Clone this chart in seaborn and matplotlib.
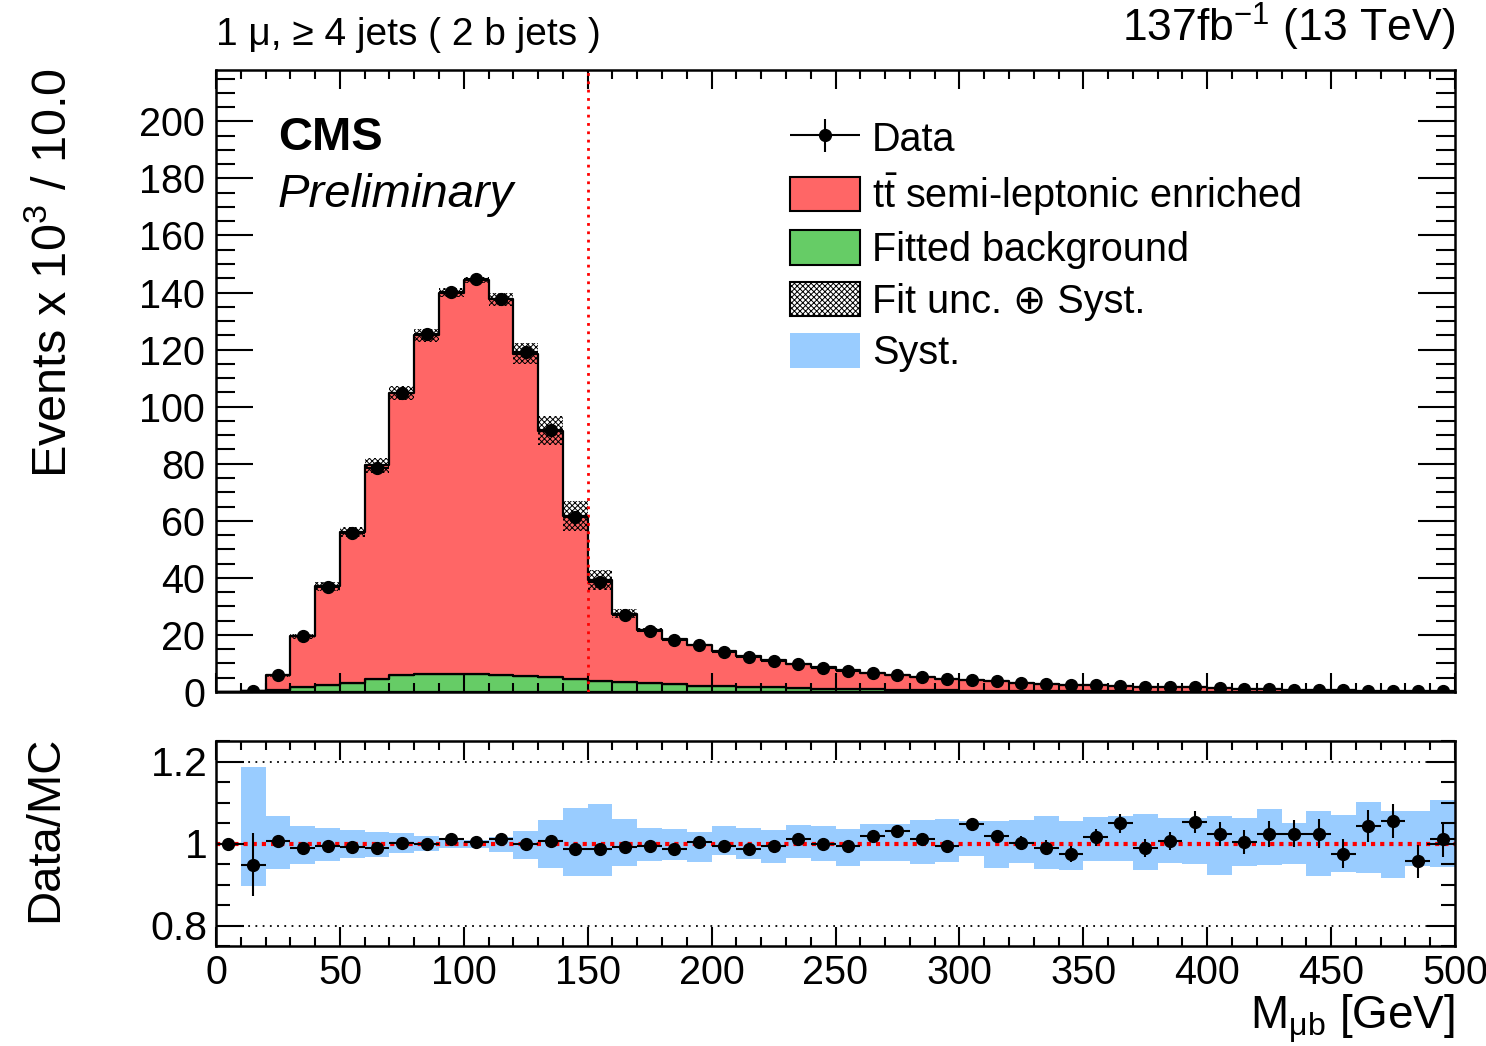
import numpy as np
import pandas as pd
import matplotlib
matplotlib.use("Agg")
import matplotlib.pyplot as plt
import seaborn as sns
from matplotlib.patches import Patch
from matplotlib.container import ErrorbarContainer
from matplotlib.legend_handler import HandlerErrorbar
from matplotlib.ticker import MultipleLocator, FixedLocator

# bins: 10 GeV wide from 0 to 500
bin_edges = np.arange(0, 510, 10)
bin_centers = bin_edges[:-1] + 5

# events (x 10^3) per bin
data_events = [np.nan, 0.25, 5.8, 19.5, 36.7, 55.9, 78.6, 104.7, 125.6, 140.2,
               144.7, 137.9, 119.0, 91.9, 61.4, 38.6, 27.0, 21.5, 18.4, 16.3,
               14.0, 12.3, 11.0, 9.8, 8.5, 7.5, 6.8, 5.96, 5.25, 4.67,
               4.2, 3.74, 3.27, 2.92, 2.57, 2.33, 2.10, 1.87, 1.75, 1.63,
               1.28, 1.05, 0.93, 0.82, 0.70, 0.58, 0.47, 0.47, 0.35, 0.23]
ttbar_events = [0.0, 0.05, 5.1, 17.8, 34.4, 52.9, 74.7, 99.0, 118.9, 133.5,
                138.1, 131.6, 113.0, 86.4, 56.9, 35.3, 23.9, 18.65, 15.9, 14.2,
                12.1, 10.6, 9.6, 8.5, 7.4, 6.55, 5.77, 5.08, 4.5, 4.12,
                3.58, 3.35, 3.0, 2.68, 2.36, 2.09, 1.86, 1.73, 1.6, 1.45,
                1.19, 0.95, 0.86, 0.72, 0.63, 0.54, 0.41, 0.40, 0.33, 0.20]
bkg_events = [0.0, 0.2, 0.7, 1.7, 2.6, 3.3, 4.7, 5.8, 6.2, 6.4,
              6.4, 6.0, 5.6, 5.2, 4.7, 4.0, 3.6, 3.15, 2.7, 2.2,
              2.1, 1.9, 1.6, 1.4, 1.2, 1.05, 0.93, 0.82, 0.70, 0.58,
              0.47, 0.35, 0.3, 0.27, 0.24, 0.21, 0.19, 0.17, 0.15, 0.13,
              0.11, 0.10, 0.09, 0.08, 0.07, 0.06, 0.05, 0.05, 0.04, 0.03]
fit_unc = [0, 0.1, 0.5, 1.0, 1.6, 1.7, 2.5, 2.3, 2.3, 1.6,
           1.0, 2.3, 3.7, 5.2, 5.2, 3.5, 1.6, 0.7, 0.5, 0.4,
           0.4, 0.3, 0.3, 0.3, 0.25, 0.25, 0.2, 0.2, 0.2, 0.2,
           0.15, 0.15, 0.15, 0.15, 0.1, 0.1, 0.1, 0.1, 0.1, 0.1,
           0.1, 0.1, 0.05, 0.05, 0.05, 0.05, 0.05, 0.05, 0.05, 0.05]

# data / MC ratio
ratio = [1.000, 0.948, 1.006, 0.990, 0.995, 0.992, 0.988, 1.001, 1.000, 1.010,
         1.004, 1.010, 0.998, 1.006, 0.986, 0.986, 0.992, 0.993, 0.986, 1.003,
         0.993, 0.986, 0.995, 1.011, 0.998, 0.994, 1.019, 1.031, 1.010, 0.994,
         1.047, 1.019, 1.002, 0.990, 0.975, 1.015, 1.049, 0.990, 1.006, 1.053,
         1.024, 1.004, 1.024, 1.024, 1.024, 0.975, 1.042, 1.055, 0.957, 1.010]
ratio_err = [0.0, 0.077, 0.004, 0.003, 0.003, 0.003, 0.003, 0.003, 0.003, 0.003,
             0.003, 0.003, 0.003, 0.003, 0.004, 0.005, 0.005, 0.006, 0.006, 0.006,
             0.007, 0.007, 0.008, 0.008, 0.009, 0.009, 0.009, 0.010, 0.011, 0.012,
             0.014, 0.015, 0.017, 0.018, 0.019, 0.021, 0.023, 0.022, 0.023, 0.027,
             0.029, 0.029, 0.032, 0.033, 0.035, 0.035, 0.039, 0.041, 0.040, 0.043]
syst_up = [np.nan, 1.186, 1.066, 1.043, 1.039, 1.032, 1.029, 1.026, 1.018, 1.010,
           1.008, 1.016, 1.031, 1.058, 1.087, 1.096, 1.060, 1.039, 1.035, 1.029,
           1.042, 1.039, 1.032, 1.045, 1.043, 1.035, 1.047, 1.048, 1.058, 1.059,
           1.054, 1.056, 1.058, 1.066, 1.054, 1.064, 1.067, 1.073, 1.061, 1.063,
           1.067, 1.061, 1.084, 1.050, 1.080, 1.069, 1.100, 1.079, 1.079, 1.105]
syst_down = [np.nan, 0.896, 0.939, 0.950, 0.958, 0.964, 0.966, 0.976, 0.982, 0.988,
             0.990, 0.980, 0.961, 0.941, 0.921, 0.920, 0.944, 0.958, 0.960, 0.956,
             0.971, 0.963, 0.952, 0.964, 0.957, 0.945, 0.958, 0.957, 0.950, 0.956,
             0.969, 0.940, 0.952, 0.938, 0.936, 0.958, 0.958, 0.936, 0.952, 0.950,
             0.924, 0.945, 0.947, 0.950, 0.920, 0.931, 0.929, 0.916, 0.944, 0.942]

sig_label = r'$\mathrm{t\bar{t}}$ semi-leptonic enriched'
bkg_label = 'Fitted background'
red = '#FF6666'
green = '#66CC66'
blue = '#99CCFF'

sns.set_theme(style='ticks')
plt.rcParams['font.family'] = ['Liberation Sans', 'DejaVu Sans']
plt.rcParams['mathtext.fontset'] = 'custom'
plt.rcParams['mathtext.rm'] = 'Liberation Sans'
plt.rcParams['mathtext.it'] = 'Liberation Sans:italic'
plt.rcParams['mathtext.bf'] = 'Liberation Sans:bold'
plt.rcParams['hatch.linewidth'] = 0.7
for key in ['text.color', 'axes.labelcolor', 'xtick.color', 'ytick.color',
            'axes.edgecolor']:
    plt.rcParams[key] = 'black'

W, H = 1486, 1046
fig = plt.figure(figsize=(W / 100, H / 100), dpi=100)
ax = fig.add_axes([216 / W, 1 - 692 / H, 1239 / W, 622 / H])
rax = fig.add_axes([216 / W, 1 - 946 / H, 1239 / W, 205 / H])

# stacked MC
stack = pd.DataFrame({
    'mass': np.concatenate([bin_centers, bin_centers]).astype(float),
    'events': np.concatenate([ttbar_events, bkg_events]),
    'process': [sig_label] * len(bin_centers) + [bkg_label] * len(bin_centers),
})
sns.histplot(data=stack, x='mass', weights='events', hue='process',
             hue_order=[sig_label, bkg_label], multiple='stack',
             bins=50, binrange=(0, 500),
             element='step', palette={sig_label: red, bkg_label: green},
             edgecolor='black', linewidth=1.6, alpha=1, legend=False, ax=ax)

total = np.array(ttbar_events) + np.array(bkg_events)
unc = np.array(fit_unc)
lo = np.append(total - unc, (total - unc)[-1])
hi = np.append(total + unc, (total + unc)[-1])
ax.fill_between(bin_edges, lo, hi, step='post', facecolor='none',
                edgecolor='black', hatch='xxxxxx', linewidth=0, zorder=3)

ax.errorbar(bin_centers, data_events, xerr=5, fmt='o', color='black',
            ms=8.5, elinewidth=1.5, capsize=0, zorder=4)
ax.axvline(150, color='red', ls=(0, (1, 2)), lw=2, zorder=3)

ax.set_xlim(0, 500)
ax.set_ylim(0, 218)
ax.set_xlabel('')
ax.set_ylabel('')
ax.xaxis.set_major_locator(MultipleLocator(50))
ax.xaxis.set_minor_locator(MultipleLocator(10))
ax.yaxis.set_major_locator(FixedLocator(np.arange(0, 201, 20)))
ax.yaxis.set_minor_locator(MultipleLocator(5))
ax.tick_params(axis='x', labelbottom=False)

# ratio panel
rax.fill_between(bin_edges, np.append(syst_down, syst_down[-1]),
                 np.append(syst_up, syst_up[-1]), step='post', color=blue,
                 linewidth=0, zorder=1)
rax.plot([10, 500], [1.2, 1.2], color='black', ls=(0, (1, 3)), lw=1.3, zorder=2)
rax.plot([10, 500], [0.8, 0.8], color='black', ls=(0, (1, 3)), lw=1.3, zorder=2)
rax.axhline(1.0, color='red', ls=(0, (1, 1.2)), lw=3, zorder=2)
ratio_handle = rax.errorbar(bin_centers, ratio, xerr=5, yerr=ratio_err, fmt='o',
                            color='black', ms=8.5, elinewidth=1.5, capsize=0, zorder=4)
rax.set_xlim(0, 500)
rax.set_ylim(0.75, 1.25)
rax.yaxis.set_major_locator(FixedLocator([0.8, 1.0, 1.2]))
rax.set_yticklabels(['0.8', '1', '1.2'])
rax.yaxis.set_minor_locator(MultipleLocator(0.05))
rax.xaxis.set_major_locator(MultipleLocator(50))
rax.xaxis.set_minor_locator(MultipleLocator(10))

for a in (ax, rax):
    a.set_axisbelow(False)
    for s in a.spines.values():
        s.set_linewidth(1.8)
        s.set_visible(True)
    a.tick_params(which='both', direction='in', top=True, right=True,
                  width=1.5, labelsize=28.5, color='black')
    a.tick_params(axis='x', which='major', length=13.5, pad=6)
    a.tick_params(axis='x', which='minor', length=6.5)
ax.tick_params(axis='y', which='major', length=26.5, pad=8)
ax.tick_params(axis='y', which='minor', length=13.5)
rax.tick_params(axis='y', which='major', length=20.5, pad=6, labelsize=29.5)
rax.tick_params(axis='y', which='minor', length=10)

# legend
handles = [ratio_handle,
           Patch(facecolor=red, edgecolor='black', linewidth=1.5),
           Patch(facecolor=green, edgecolor='black', linewidth=1.5),
           Patch(facecolor='white', edgecolor='black', hatch='xxxxxx', linewidth=1.5),
           Patch(facecolor=blue, edgecolor='none')]
labels = ['Data', sig_label, bkg_label, 'Fit unc. ⊕ Syst.', 'Syst.']
ax.legend(handles, labels, loc='upper left', bbox_to_anchor=(0.4633, 0.92),
          frameon=False, fontsize=28.5, handlelength=1.77, handleheight=0.96,
          handletextpad=0.3, labelspacing=0.32, borderpad=0, borderaxespad=0,
          handler_map={ErrorbarContainer: HandlerErrorbar(xerr_size=0.88,
                                                          yerr_size=0.42)})

# texts
fig.text(216 / W, 1 - 45 / H, '1 μ, ≥ 4 jets ( 2 b jets )', ha='left',
         va='baseline', fontsize=28)
fig.text(1455 / W, 1 - 42 / H, r'137fb$^{-1}$ (13 TeV)', ha='right',
         va='baseline', fontsize=32)
fig.text(278 / W, 1 - 150 / H, 'CMS', ha='left', va='baseline', fontsize=34,
         fontweight='bold')
fig.text(278 / W, 1 - 207 / H, 'Preliminary', ha='left', va='baseline',
         fontsize=34, fontstyle='italic')
fig.text(53 / W, 1 - 68 / H, r'Events x 10$^{3}$ / 10.0', rotation=90,
         ha='center', va='top', fontsize=35)
fig.text(45 / W, 1 - 736 / H, 'Data/MC', rotation=90, ha='center', va='top',
         fontsize=34)
fig.text(1455 / W, 1 - 1029 / H, r'M$_{\mathrm{μb}}$ [GeV]', ha='right',
         va='baseline', fontsize=33)

fig.savefig('out.png', dpi=100)
